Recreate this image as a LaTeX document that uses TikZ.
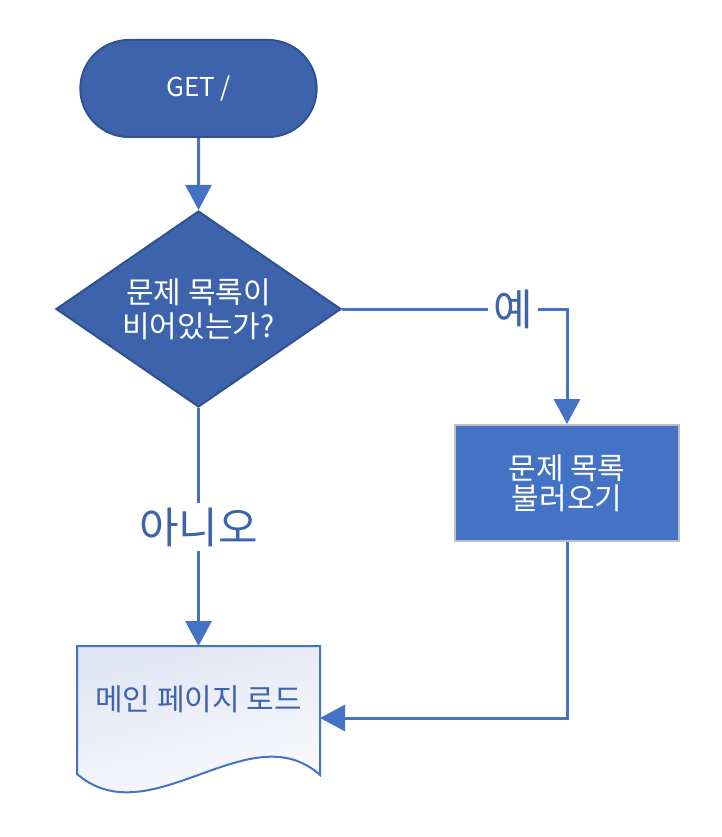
\documentclass[tikz,border=0pt]{standalone}
\usepackage{fontspec}
\setmainfont{Noto Sans CJK KR}
\usetikzlibrary{shapes.geometric, shapes.misc, arrows.meta, calc, positioning, backgrounds}

\definecolor{darkfill}{RGB}{61,99,173}
\definecolor{darkline}{RGB}{47,82,143}
\definecolor{boxfill}{RGB}{68,114,196}
\definecolor{boxline}{RGB}{191,191,191}
\definecolor{flowline}{RGB}{68,114,196}
\definecolor{docfill}{RGB}{226,230,243}

\begin{document}
\begin{tikzpicture}[x=1pt, y=-1pt, >={Triangle[length=25pt, width=26pt]}]
        % --- STYLES ---
        \tikzset{
            terminal/.style={draw=darkline, fill=darkfill, rounded rectangle, line width=2pt, minimum width=243pt, minimum height=97pt, text=white, font=\fontsize{26}{31}\selectfont},
            decision/.style={draw=darkline, fill=darkfill, diamond, aspect=1.45, inner sep=0pt, line width=2pt, minimum width=285pt, minimum height=196pt, align=center, text=white, font=\fontsize{30}{34}\selectfont},
            process/.style={draw=boxline, fill=boxfill, rectangle, line width=2pt, minimum width=224pt, minimum height=116pt, align=center, text=white, font=\fontsize{30}{30}\selectfont},
            document/.style={rectangle, inner sep=0pt, outer sep=0pt, minimum width=243pt, minimum height=106pt, text=darkfill, font=\fontsize{30}{31}\selectfont},
            docshape/.style={draw=flowline, line width=2pt, top color=docfill, bottom color=white, shading angle=15},
            flow/.style={draw=flowline, line width=3pt, ->},
            answer/.style={fill=white, text=darkfill, inner sep=5pt, font=\fontsize{43}{43}\selectfont}
        }
        \useasboundingbox (0,0) rectangle (721,837);

        % --- NODES ---
        \node [terminal] (start) at (198.5,88.5) {GET /};
        \node [decision, below=72pt of start] (check) {문제 목록이\\비어있는가?};
        \node [process, right=112pt of check, yshift=-174pt] (load) {문제 목록\\불러오기};
        \node [document, below=238pt of check] (main_page) {메인 페이지 로드};

        \begin{scope}[on background layer]
            \draw [docshape] (main_page.north west) -- (main_page.north east)
                -- ($(main_page.south east)+(0,23)$)
                .. controls ($(main_page.south east)+(-70,-40)$) and ($(main_page.south west)+(73,85)$) .. ($(main_page.south west)+(0,22)$)
                -- cycle;
        \end{scope}

        % --- CONNECTIONS ---
        \draw [flow] (start) -- (check);
        \draw [flow] (check.east) -| node[answer, pos=0.38] {예} (load.north);
        \draw [flow] (check.south) -- node[answer] {아니오} (main_page.north);
        \draw [flow] (load.south) |- ($(main_page.east)+(0,19)$);

    \end{tikzpicture}
\end{document}
